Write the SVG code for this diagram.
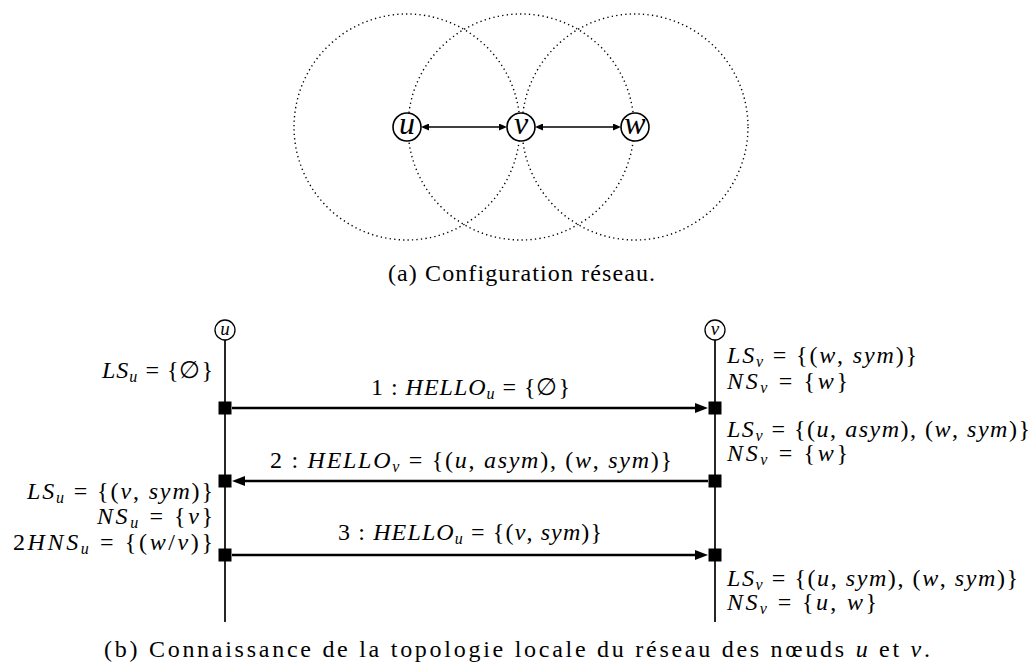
<svg xmlns="http://www.w3.org/2000/svg" width="1033" height="669" viewBox="0 0 1033 669">
<style>
.bg{fill:#fff}
.range{fill:none;stroke:#000;stroke-width:1.4;stroke-dasharray:1.3 3.2}
.node{fill:#fff;stroke:#000;stroke-width:1.6}
.snode{fill:#fff;stroke:#000;stroke-width:1.3}
.life{stroke:#000;stroke-width:1.7}
.edge{stroke:#000;stroke-width:1.5;fill:none}
.msg{stroke:#000;stroke-width:2.5;fill:none}
.sq{fill:#000}
.t{font-family:"Liberation Serif","Times New Roman",serif;fill:#000}
.m{font-size:24px}
.i{font-style:italic}
.s{font-size:16px;font-style:italic}
.cap{font-size:24px}
</style>
<defs>
<marker id="sa" markerUnits="userSpaceOnUse" markerWidth="8" markerHeight="7" refX="5" refY="3.5" orient="auto-start-reverse"><path d="M0,0 L8,3.5 L0,7 z" fill="#000"/></marker>
<marker id="ba" markerUnits="userSpaceOnUse" markerWidth="13" markerHeight="10" refX="7" refY="5" orient="auto"><path d="M0,0 L13,5 L0,10 z" fill="#000"/></marker>
</defs>
<rect class="bg" x="0" y="0" width="1033" height="669"/>

<g id="ranges">
<circle class="range" cx="407" cy="127" r="113"/>
<circle class="range" cx="521" cy="127" r="113"/>
<circle class="range" cx="635" cy="127" r="113"/>
</g>

<g id="connectors">
<line class="edge" x1="424" y1="127" x2="504" y2="127" marker-start="url(#sa)" marker-end="url(#sa)"/>
<line class="edge" x1="538" y1="127" x2="618" y2="127" marker-start="url(#sa)" marker-end="url(#sa)"/>
<line class="msg" x1="232" y1="408" x2="702" y2="408" marker-end="url(#ba)"/>
<line class="msg" x1="708" y1="481" x2="238" y2="481" marker-end="url(#ba)"/>
<line class="msg" x1="232" y1="555" x2="702" y2="555" marker-end="url(#ba)"/>
</g>

<g id="node-u">
<circle class="node" cx="407" cy="127" r="14"/>
<text class="t i" x="407" y="134" font-size="32" text-anchor="middle">u</text>
</g>
<g id="node-v">
<circle class="node" cx="521" cy="127" r="14"/>
<text class="t i" x="521" y="134" font-size="32" text-anchor="middle">v</text>
</g>
<g id="node-w">
<circle class="node" cx="635" cy="127" r="14"/>
<text class="t i" x="635" y="134" font-size="32" text-anchor="middle">w</text>
</g>

<text class="t cap" x="388" y="281" textLength="267" lengthAdjust="spacing">(a) Configuration réseau.</text>

<g id="lifeline-u">
<line class="life" x1="225" y1="340" x2="225" y2="622"/>
<circle class="snode" cx="225" cy="330" r="10"/>
<text class="t i" x="225" y="335" font-size="19" text-anchor="middle">u</text>
<rect class="sq" x="218.5" y="401.5" width="13" height="13"/>
<rect class="sq" x="218.5" y="474.5" width="13" height="13"/>
<rect class="sq" x="218.5" y="548.5" width="13" height="13"/>
</g>
<g id="lifeline-v">
<line class="life" x1="715" y1="340" x2="715" y2="622"/>
<circle class="snode" cx="715" cy="330" r="10"/>
<text class="t i" x="715" y="335" font-size="19" text-anchor="middle">v</text>
<rect class="sq" x="708.5" y="401.5" width="13" height="13"/>
<rect class="sq" x="708.5" y="474.5" width="13" height="13"/>
<rect class="sq" x="708.5" y="548.5" width="13" height="13"/>
</g>

<g id="labels-u">
<text class="t m" x="213" y="378" text-anchor="end" textLength="111" lengthAdjust="spacing"><tspan class="i">LS</tspan><tspan class="s" dy="4">u</tspan><tspan dy="-4"> = {∅}</tspan></text>
<text class="t m" x="213" y="499" text-anchor="end" textLength="186" lengthAdjust="spacing"><tspan class="i">LS</tspan><tspan class="s" dy="4">u</tspan><tspan dy="-4"> = {(</tspan><tspan class="i">v</tspan><tspan>, </tspan><tspan class="i">sym</tspan><tspan>)}</tspan></text>
<text class="t m" x="213" y="524" text-anchor="end" textLength="116" lengthAdjust="spacing"><tspan class="i">NS</tspan><tspan class="s" dy="4">u</tspan><tspan dy="-4"> = {</tspan><tspan class="i">v</tspan><tspan>}</tspan></text>
<text class="t m" x="213" y="550" text-anchor="end" textLength="200" lengthAdjust="spacing"><tspan>2</tspan><tspan class="i">HNS</tspan><tspan class="s" dy="4">u</tspan><tspan dy="-4"> = {(</tspan><tspan class="i">w</tspan><tspan>/</tspan><tspan class="i">v</tspan><tspan>)}</tspan></text>
</g>

<g id="labels-v">
<text class="t m" x="727" y="363" textLength="190" lengthAdjust="spacing"><tspan class="i">LS</tspan><tspan class="s" dy="4">v</tspan><tspan dy="-4"> = {(</tspan><tspan class="i">w</tspan><tspan>, </tspan><tspan class="i">sym</tspan><tspan>)}</tspan></text>
<text class="t m" x="727" y="389" textLength="121" lengthAdjust="spacing"><tspan class="i">NS</tspan><tspan class="s" dy="4">v</tspan><tspan dy="-4"> = {</tspan><tspan class="i">w</tspan><tspan>}</tspan></text>
<text class="t m" x="727" y="437" textLength="303" lengthAdjust="spacing"><tspan class="i">LS</tspan><tspan class="s" dy="4">v</tspan><tspan dy="-4"> = {(</tspan><tspan class="i">u</tspan><tspan>, </tspan><tspan class="i">asym</tspan><tspan>), (</tspan><tspan class="i">w</tspan><tspan>, </tspan><tspan class="i">sym</tspan><tspan>)}</tspan></text>
<text class="t m" x="727" y="461" textLength="121" lengthAdjust="spacing"><tspan class="i">NS</tspan><tspan class="s" dy="4">v</tspan><tspan dy="-4"> = {</tspan><tspan class="i">w</tspan><tspan>}</tspan></text>
<text class="t m" x="727" y="586" textLength="291" lengthAdjust="spacing"><tspan class="i">LS</tspan><tspan class="s" dy="4">v</tspan><tspan dy="-4"> = {(</tspan><tspan class="i">u</tspan><tspan>, </tspan><tspan class="i">sym</tspan><tspan>), (</tspan><tspan class="i">w</tspan><tspan>, </tspan><tspan class="i">sym</tspan><tspan>)}</tspan></text>
<text class="t m" x="727" y="610" textLength="150" lengthAdjust="spacing"><tspan class="i">NS</tspan><tspan class="s" dy="4">v</tspan><tspan dy="-4"> = {</tspan><tspan class="i">u</tspan><tspan>, </tspan><tspan class="i">w</tspan><tspan>}</tspan></text>
</g>

<g id="message-labels">
<text class="t m" x="371" y="395" textLength="199" lengthAdjust="spacing"><tspan>1 : </tspan><tspan class="i">HELLO</tspan><tspan class="s" dy="4">u</tspan><tspan dy="-4"> = {∅}</tspan></text>
<text class="t m" x="270" y="468" textLength="402" lengthAdjust="spacing"><tspan>2 : </tspan><tspan class="i">HELLO</tspan><tspan class="s" dy="4">v</tspan><tspan dy="-4"> = {(</tspan><tspan class="i">u</tspan><tspan>, </tspan><tspan class="i">asym</tspan><tspan>), (</tspan><tspan class="i">w</tspan><tspan>, </tspan><tspan class="i">sym</tspan><tspan>)}</tspan></text>
<text class="t m" x="338" y="540" textLength="264" lengthAdjust="spacing"><tspan>3 : </tspan><tspan class="i">HELLO</tspan><tspan class="s" dy="4">u</tspan><tspan dy="-4"> = {(</tspan><tspan class="i">v</tspan><tspan>, </tspan><tspan class="i">sym</tspan><tspan>)}</tspan></text>
</g>

<text class="t cap" x="104" y="657" textLength="826" lengthAdjust="spacing">(b) Connaissance de la topologie locale du réseau des nœuds <tspan class="i">u</tspan> et <tspan class="i">v</tspan>.</text>
</svg>
